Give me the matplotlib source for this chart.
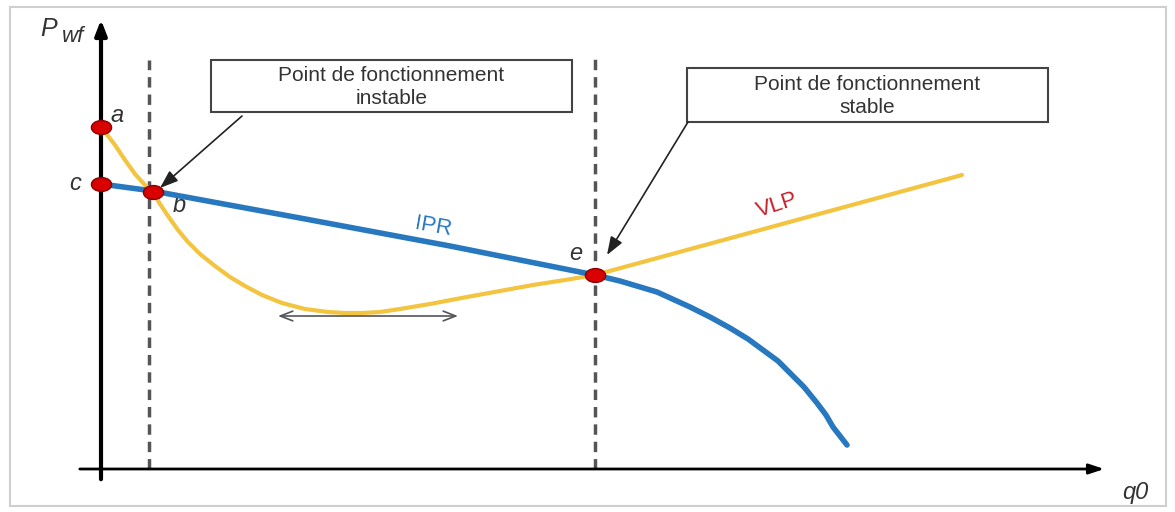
import matplotlib
matplotlib.use("Agg")
import matplotlib.pyplot as plt
from matplotlib.patches import Rectangle
from matplotlib.markers import MarkerStyle
from matplotlib.transforms import Affine2D

# ---- data (schematic units) ----
ipr_q = [0, 52, 199, 349, 494, 519, 556, 589, 609, 629, 647, 662, 677, 689,
         703, 716, 725, 732, 739, 746]
ipr_p = [285, 278, 251, 223, 194, 188, 177, 162, 152, 141, 130, 119, 108, 96,
         82, 66, 54, 42, 33, 24]

vlp_q = [0, 7, 14, 24, 34, 44, 52, 59, 67, 77, 87, 99, 114, 129, 144, 161,
         181, 204, 227, 244, 261, 279, 299, 329, 366, 399, 432, 464, 494, 861]
vlp_p = [342, 333, 324, 309, 295, 284, 277, 265, 253, 239, 227, 215, 203, 192,
         183, 174, 166, 160, 157, 156, 156, 157, 160, 165, 172, 178, 184, 189,
         194, 294]

point_names = ["a", "c", "b", "e"]
point_q = [0, 0, 52, 494]
point_p = [342, 285, 277, 194]

q_unstable = 48
q_stable = 494

box_texts = ["Point de fonctionnement\ninstable", "Point de fonctionnement\nstable"]

W, H = 1175, 512
plt.rcParams["font.family"] = ["Liberation Sans", "DejaVu Sans"]
fig = plt.figure(figsize=(W / 100, H / 100), dpi=100)
ax = fig.add_axes([0, 0, 1, 1])
ax.set_xlim(-101, W - 101)
ax.set_ylim(469 - H, 469)
ax.axis("off")

# outer frame of the picture
fig.patches.append(Rectangle((10 / W, 6 / H), (1166 - 10) / W, (505 - 6) / H,
                             transform=fig.transFigure, fill=False,
                             edgecolor="#cfcfcf", lw=1.5))

# axes with arrows
ax.annotate("", xy=(0, 452), xytext=(0, -13),
            arrowprops=dict(arrowstyle="-|>,head_length=0.9,head_width=0.35",
                            color="black", lw=3))
ax.annotate("", xy=(1006, 0), xytext=(-24, 0),
            arrowprops=dict(arrowstyle="-|>,head_length=0.9,head_width=0.3",
                            color="black", lw=2))

# dashed vertical lines
ax.plot([q_unstable, q_unstable], [0, 409], color="#555555", lw=2.5,
        dashes=(3, 2))
ax.plot([q_stable, q_stable], [0, 414], color="#555555", lw=2.5,
        dashes=(3, 2))

# curves
ax.plot(vlp_q, vlp_p, color="#f2c440", lw=3, solid_capstyle="round",
        solid_joinstyle="round", zorder=3)
ax.plot(ipr_q, ipr_p, color="#2878c0", lw=4, solid_capstyle="round",
        solid_joinstyle="round", zorder=4)

# points (slightly flattened ellipses)
ell = MarkerStyle("o", transform=Affine2D().scale(1.45, 1.0))
ax.plot(point_q, point_p, linestyle="none", marker=ell, ms=10,
        mfc="#d90000", mec="#8a0000", mew=1, zorder=6, clip_on=False)

lab_off = {"a": (16, 11), "c": (-26, 0), "b": (26, -14), "e": (-19, 22)}
for n, q, p in zip(point_names, point_q, point_p):
    dx, dy = lab_off[n]
    ax.text(q + dx, p + dy, n, fontsize=17, style="italic", color="#333333",
            ha="center", va="center")

# curve labels
ax.text(332, 242, "IPR", fontsize=16, color="#2878c0", rotation=-10,
        ha="center", va="center")
ax.text(676, 264, "VLP", fontsize=16, color="#c8202a", rotation=18,
        ha="center", va="center")

# axis labels
ax.text(-52, 440, "P", fontsize=18, style="italic", color="#333333",
        ha="center", va="center")
ax.text(-28, 433, "wf", fontsize=16, style="italic", color="#333333",
        ha="center", va="center")
ax.text(1034, -23, "q0", fontsize=17, style="italic", color="#333333",
        ha="center", va="center")

# annotation boxes
boxes = [(110, 357, 361, 52), (586, 347, 361, 54)]
for (x0, y0, w, h), t in zip(boxes, box_texts):
    ax.add_patch(Rectangle((x0, y0), w, h, fill=False, edgecolor="#444444",
                           lw=1.5, zorder=5))
    ax.text(x0 + w / 2, y0 + h / 2 - 1, t, fontsize=15, color="#333333",
            ha="center", va="center", linespacing=1.25, zorder=5)

# arrows from boxes to points
for start, end in [((141, 353), (59, 281)), ((587, 347), (506, 214))]:
    ax.annotate("", xy=end, xytext=start,
                arrowprops=dict(arrowstyle="-|>,head_length=1.1,head_width=0.4",
                                color="#222222", lw=1.2, shrinkA=0, shrinkB=0),
                zorder=7)

# double arrow under the VLP minimum
ax.annotate("", xy=(357, 153), xytext=(177, 153),
            arrowprops=dict(arrowstyle="<->,head_length=0.9,head_width=0.35",
                            color="#555555", lw=1.2, shrinkA=0, shrinkB=0))

fig.savefig("out.png", dpi=100)
